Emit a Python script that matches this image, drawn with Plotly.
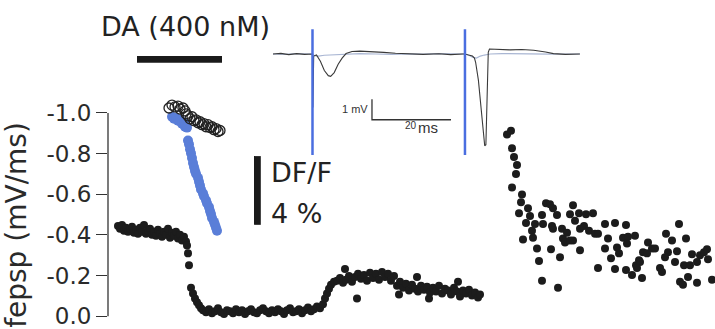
import plotly.graph_objects as go

# ---------------- main time course: fEPSP slope (mV/ms) vs time (min) ----------------
t_main = [1.25, 1.5, 1.75, 2.0, 2.25, 2.5, 2.75, 3.0, 3.25, 3.5, 3.75, 4.0, 4.25, 4.5, 4.75, 5.0,
          5.25, 5.5, 5.75, 6.0, 6.25, 6.5, 6.75, 7.0, 7.25, 7.5, 7.75, 8.0, 8.25, 8.5, 8.75, 9.0,
          9.25, 9.5, 9.75, 9.875, 10.0, 10.125, 10.375, 10.625, 10.875, 11.125, 11.375, 11.625,
          11.875, 12.25, 12.625, 13.0, 13.375, 13.75, 14.125, 14.5, 14.875, 15.25, 15.625, 16.0,
          16.375, 16.75, 17.125, 17.5, 17.875, 18.25, 18.625, 19.0, 19.375, 19.75, 20.125, 20.5,
          20.875, 21.25, 21.625, 22.0, 22.375, 22.75, 23.125, 23.5, 23.875, 24.25, 24.625, 25.0,
          25.375, 25.75, 26.125, 26.5,
          26.875, 27.125, 27.375, 27.625, 27.875, 28.25,
          28.625, 29.0, 29.375, 29.625, 29.75, 30.125, 30.5, 30.875, 31.125, 31.25, 31.625, 32.0,
          32.375, 32.75, 33.125, 33.5, 33.875, 34.25, 34.625, 35.0, 35.375, 35.75,
          36.125, 36.375, 36.5, 36.875, 37.25, 37.625, 38.0, 38.375, 38.625, 38.75, 39.125, 39.5,
          39.875, 40.125, 40.25, 40.625, 41.0, 41.375, 41.75, 42.125, 42.5, 42.875, 43.25, 43.625,
          43.75, 44.0, 44.375, 44.75, 45.125, 45.5, 45.875, 46.25, 46.5]
v_main = [-0.444, -0.430, -0.449, -0.420, -0.435, -0.415, -0.430, -0.440, -0.411, -0.425, -0.406,
          -0.435, -0.415, -0.449, -0.406, -0.420, -0.430, -0.401, -0.415, -0.396, -0.425, -0.406,
          -0.391, -0.415, -0.401, -0.430, -0.386, -0.411, -0.396, -0.415, -0.382, -0.401, -0.372,
          -0.391, -0.367, -0.348, -0.309, -0.251, -0.140, -0.111, -0.087, -0.068, -0.053, -0.039,
          -0.029, -0.019, -0.034, -0.014, -0.024, -0.039, -0.019, -0.010, -0.029, -0.024, -0.014,
          -0.034, -0.019, -0.029, -0.010, -0.024, -0.034, -0.019, -0.014, -0.029, -0.039, -0.024,
          -0.014, -0.029, -0.019, -0.034, -0.024, -0.010, -0.029, -0.039, -0.019, -0.024, -0.034,
          -0.014, -0.029, -0.043, -0.024, -0.034, -0.048, -0.039,
          -0.058, -0.087, -0.111, -0.135, -0.155, -0.169,
          -0.174, -0.188, -0.164, -0.232, -0.179, -0.198, -0.169, -0.193, -0.087, -0.208, -0.184,
          -0.203, -0.174, -0.213, -0.188, -0.208, -0.179, -0.217, -0.193, -0.208, -0.174, -0.198,
          -0.150, -0.106, -0.169, -0.140, -0.159, -0.126, -0.155, -0.135, -0.193, -0.121, -0.150,
          -0.130, -0.145, -0.087, -0.116, -0.140, -0.121, -0.150, -0.111, -0.135, -0.126, -0.106,
          -0.140, -0.121, -0.169, -0.097, -0.126, -0.111, -0.130, -0.101, -0.116, -0.092, -0.106]

# later recording (mV/ms)
t_late = [49.875, 50.375, 50.5, 50.75, 51.125, 51.0, 50.5, 51.75, 51.625, 52.5, 51.375, 52.75,
          52.25, 53.375, 53.0, 51.875, 53.125, 53.625, 53.875, 54.25, 54.75, 55.25, 55.625, 54.25,
          56.125, 54.375, 55.625, 56.75, 56.875, 55.375, 56.5, 56.25, 57.125, 57.75, 58.125, 58.375,
          58.875, 58.125, 59.0, 59.0, 59.75, 60.625, 59.5, 60.125, 60.875, 61.25, 62.125, 63.375,
          64.75, 62.5, 62.125, 61.25, 62.875, 63.375, 63.875, 64.375, 65.0, 65.875, 64.875, 64.75,
          65.5, 66.0, 66.375, 66.875, 66.75, 67.5, 68.0, 68.375, 67.375, 69.0, 69.25, 69.75, 70.5,
          71.375, 70.0, 71.125, 69.625, 70.875, 71.5, 71.875, 72.5, 73.625, 72.0, 72.25, 73.0,
          73.625, 74.0, 74.5, 74.875, 75.0, 75.5, 72.75, 66.5, 66.125, 63.625, 55.5, 57.375, 57.75]
v_late = [-0.894, -0.913, -0.826, -0.783, -0.744, -0.700, -0.633, -0.599, -0.560, -0.531, -0.507,
          -0.493, -0.459, -0.454, -0.420, -0.377, -0.386, -0.333, -0.271, -0.174, -0.556, -0.551,
          -0.531, -0.498, -0.498, -0.454, -0.430, -0.430, -0.382, -0.329, -0.290, -0.140, -0.362,
          -0.502, -0.546, -0.469, -0.507, -0.372, -0.324, -0.430, -0.502, -0.507, -0.444, -0.420,
          -0.406, -0.406, -0.454, -0.459, -0.449, -0.382, -0.333, -0.237, -0.285, -0.232, -0.309,
          -0.386, -0.391, -0.396, -0.357, -0.227, -0.203, -0.251, -0.275, -0.314, -0.188, -0.362,
          -0.333, -0.333, -0.309, -0.237, -0.217, -0.406, -0.372, -0.454, -0.314, -0.319, -0.290,
          -0.266, -0.169, -0.155, -0.193, -0.164, -0.251, -0.382, -0.304, -0.266, -0.300, -0.314,
          -0.329, -0.280, -0.179, -0.251, -0.266, -0.237, -0.338, -0.444, -0.411, -0.372]

# DF/F (%) traces
t_blue = [8.0, 8.25, 8.5, 8.75, 9.0, 9.25, 9.5, 9.625, 9.875, 10.0, 10.125, 10.25, 10.375, 10.5,
          10.625, 10.75, 10.875, 11.0, 11.25, 11.375, 11.5, 11.625, 11.875, 12.0, 12.25, 12.375,
          12.625, 12.75, 12.875, 13.0, 13.25, 13.375, 13.5, 13.625]
f_blue = [7.29, 7.17, 7.23, 7.06, 7.11, 6.89, 6.94, 6.71, 6.66, 5.91, 5.69, 5.40, 5.17, 4.89,
          4.60, 4.37, 4.14, 3.97, 3.74, 3.51, 3.29, 3.06, 2.83, 2.66, 2.43, 2.26, 2.03, 1.80, 1.63,
          1.40, 1.17, 1.00, 0.83, 0.66]
t_open = [7.625, 8.0, 8.375, 8.75, 9.0, 9.375, 9.625, 9.75, 10.0, 10.25, 10.5, 10.75, 11.0, 11.25,
          11.5, 11.75, 12.0, 12.25, 12.5, 12.75, 13.0, 13.25, 13.5, 13.75, 14.0]
f_open = [7.80, 7.97, 7.86, 7.91, 7.74, 7.80, 7.63, 7.46, 7.34, 7.17, 7.29, 7.06, 7.11, 6.94,
          7.00, 6.83, 6.89, 6.71, 6.83, 6.66, 6.71, 6.54, 6.60, 6.43, 6.49]

# DA application window (min) and DF/F scale bar (%)
da_window = [3.625, 14.25]
dff_bar = [1.0, 5.0]

# ---------------- inset: example field potentials (ms, mV) ----------------
ms_black = [0, 2, 4, 6, 8, 9.8, 10.0, 10.1, 10.3, 11.0, 12.0, 13.0, 14.0, 14.6, 15.5, 16.5, 17.5,
            18.5, 20, 22, 25, 28, 31, 35, 38, 42, 45, 48, 48.6, 49.5, 50.5, 51.0, 51.3, 52.0,
            52.65, 53.2, 53.6, 53.9, 54.5, 54.8, 57, 60, 63, 66, 69, 71, 74, 77.7]
mv_black = [0.0, 0.03, -0.03, 0.02, -0.02, 0.0, 0.0, -2.6, -0.1, -0.05, -0.35, -0.8, -1.05, -1.08,
            -0.9, -0.5, -0.2, 0.02, 0.12, 0.14, 0.12, 0.08, 0.04, 0.02, -0.02, 0.01, -0.03, 0.0,
            0.0, -0.05, -0.1, -0.2, -0.4, -1.27, -2.7, -3.8, -4.45, -4.4, 0.08, 0.24, 0.22, 0.2,
            0.22, 0.18, 0.1, 0.02, -0.02, 0.0]
ms_grey = [0, 3, 6, 9, 10.0, 10.5, 11.5, 13, 15, 17, 19, 22, 26, 30, 34, 38, 42, 46, 48.6, 49.5,
           50.5, 51.5, 52.5, 53.5, 55, 58, 62, 66, 70, 74, 77.7]
mv_grey = [0.0, -0.02, 0.02, -0.01, 0.0, -0.08, -0.1, -0.06, -0.05, -0.04, 0.0, 0.02, 0.0, -0.02,
           0.01, -0.01, 0.02, 0.0, 0.0, -0.05, -0.15, -0.2, -0.1, -0.05, 0.0, 0.02, 0.0, 0.01, -0.01,
           0.0, 0.0]
stim_ms = [10.0, 48.6]
stim_span_mv = [1.2, -4.9]
bar_ms = 20
bar_mv = 1

fig = go.Figure()

fig.add_trace(go.Scatter(x=t_main, y=v_main, mode="markers",
                         marker=dict(color="#1c1c1c", size=8, line=dict(width=0))))
fig.add_trace(go.Scatter(x=t_late, y=v_late, mode="markers",
                         marker=dict(color="#1c1c1c", size=8, line=dict(width=0))))
fig.add_trace(go.Scatter(x=t_blue, y=f_blue, mode="markers", yaxis="y3",
                         marker=dict(color="#5a7ed8", size=10, line=dict(width=0))))
fig.add_trace(go.Scatter(x=t_open, y=f_open, mode="markers", yaxis="y3",
                         marker=dict(symbol="circle-open", color="#222222", size=10,
                                     line=dict(width=1.3))))

# inset traces
fig.add_trace(go.Scatter(x=ms_grey, y=mv_grey, mode="lines", xaxis="x2", yaxis="y2",
                         line=dict(color="#a9b6d3", width=1.2)))
fig.add_trace(go.Scatter(x=ms_black, y=mv_black, mode="lines", xaxis="x2", yaxis="y2",
                         line=dict(color="#3a3a3a", width=1.1)))
for s in stim_ms:
    fig.add_trace(go.Scatter(x=[s, s], y=stim_span_mv, mode="lines", xaxis="x2", yaxis="y2",
                             line=dict(color="#4a6ee0", width=2.5)))
bx0, by0 = 25.06, -3.19
fig.add_trace(go.Scatter(x=[bx0, bx0, bx0 + bar_ms], y=[by0 + bar_mv, by0, by0], mode="lines",
                         xaxis="x2", yaxis="y2", line=dict(color="#333333", width=1.3)))

fig.update_layout(
    width=715, height=329,
    margin=dict(l=108, r=0, t=0, b=0),
    paper_bgcolor="white", plot_bgcolor="rgba(0,0,0,0)",
    showlegend=False,
    xaxis=dict(range=[0, 75.875], visible=False),
    yaxis=dict(range=[0.0338, -1.556], tickvals=[-1.0, -0.8, -0.6, -0.4, -0.2, 0.0],
               ticktext=["-1.0", "-0.8", "-0.6", "-0.4", "-0.2", "0.0"],
               ticks="outside", ticklen=11, tickwidth=1.3, tickcolor="#333333",
               ticklabeloverflow="allow",
               showgrid=False, zeroline=False, showline=False,
               tickfont=dict(family="DejaVu Sans", size=23, color="#2a2a2a")),
    yaxis3=dict(overlaying="y", range=[-4.714, 14.086], visible=False),
    xaxis2=dict(domain=[0.2504, 0.8105], range=[-3.291, 82.78], visible=False, anchor="y2"),
    yaxis2=dict(domain=[0.4833, 0.9392], range=[-5.476, 1.667], visible=False, anchor="x2"),
    shapes=[
        dict(type="line", xref="paper", yref="y", x0=0, x1=0, y0=-1.0, y1=0.0,
             line=dict(color="#333333", width=1.3)),
        dict(type="rect", xref="x", yref="paper", x0=da_window[0], x1=da_window[1],
             y0=1 - 64 / 329, y1=1 - 57 / 329, fillcolor="#1a1a1a", line=dict(width=0)),
        dict(type="rect", xref="x", yref="y3", x0=18.25, x1=19.1, y0=dff_bar[0], y1=dff_bar[1],
             fillcolor="#1a1a1a", line=dict(width=0)),
    ],
    annotations=[
        dict(text="fepsp (mV/ms)", xref="paper", yref="paper", x=(17 - 108) / 607,
             y=1 - 229 / 329, textangle=-90, showarrow=False, xanchor="center", yanchor="middle",
             font=dict(family="DejaVu Sans", size=28, color="#2a2a2a")),
        dict(text="DA (400 nM)", xref="paper", yref="paper", x=(185 - 108) / 607, y=1 - 27 / 329,
             showarrow=False, xanchor="center", yanchor="middle",
             font=dict(family="DejaVu Sans", size=27, color="#222222")),
        dict(text="DF/F", xref="paper", yref="paper", x=(269 - 108) / 607, y=1 - 176 / 329,
             showarrow=False, xanchor="left", yanchor="middle",
             font=dict(family="DejaVu Sans", size=27, color="#222222")),
        dict(text="4 %", xref="paper", yref="paper", x=(269 - 108) / 607, y=1 - 217 / 329,
             showarrow=False, xanchor="left", yanchor="middle",
             font=dict(family="DejaVu Sans", size=27, color="#222222")),
        dict(text="1 mV", xref="paper", yref="paper", x=(370 - 108) / 607, y=1 - 111 / 329,
             showarrow=False, xanchor="right", yanchor="middle",
             font=dict(family="Liberation Sans", size=11, color="#333333")),
        dict(text="20", xref="paper", yref="paper", x=(411 - 108) / 607, y=1 - 128 / 329,
             showarrow=False, xanchor="center", yanchor="middle",
             font=dict(family="Liberation Sans", size=10, color="#333333")),
        dict(text="ms", xref="paper", yref="paper", x=(428 - 108) / 607, y=1 - 130 / 329,
             showarrow=False, xanchor="center", yanchor="middle",
             font=dict(family="Liberation Sans", size=15, color="#333333")),
    ],
)

fig.write_html("out.html", config={"displayModeBar": False},
               post_script="document.body.style.margin='0px';")
